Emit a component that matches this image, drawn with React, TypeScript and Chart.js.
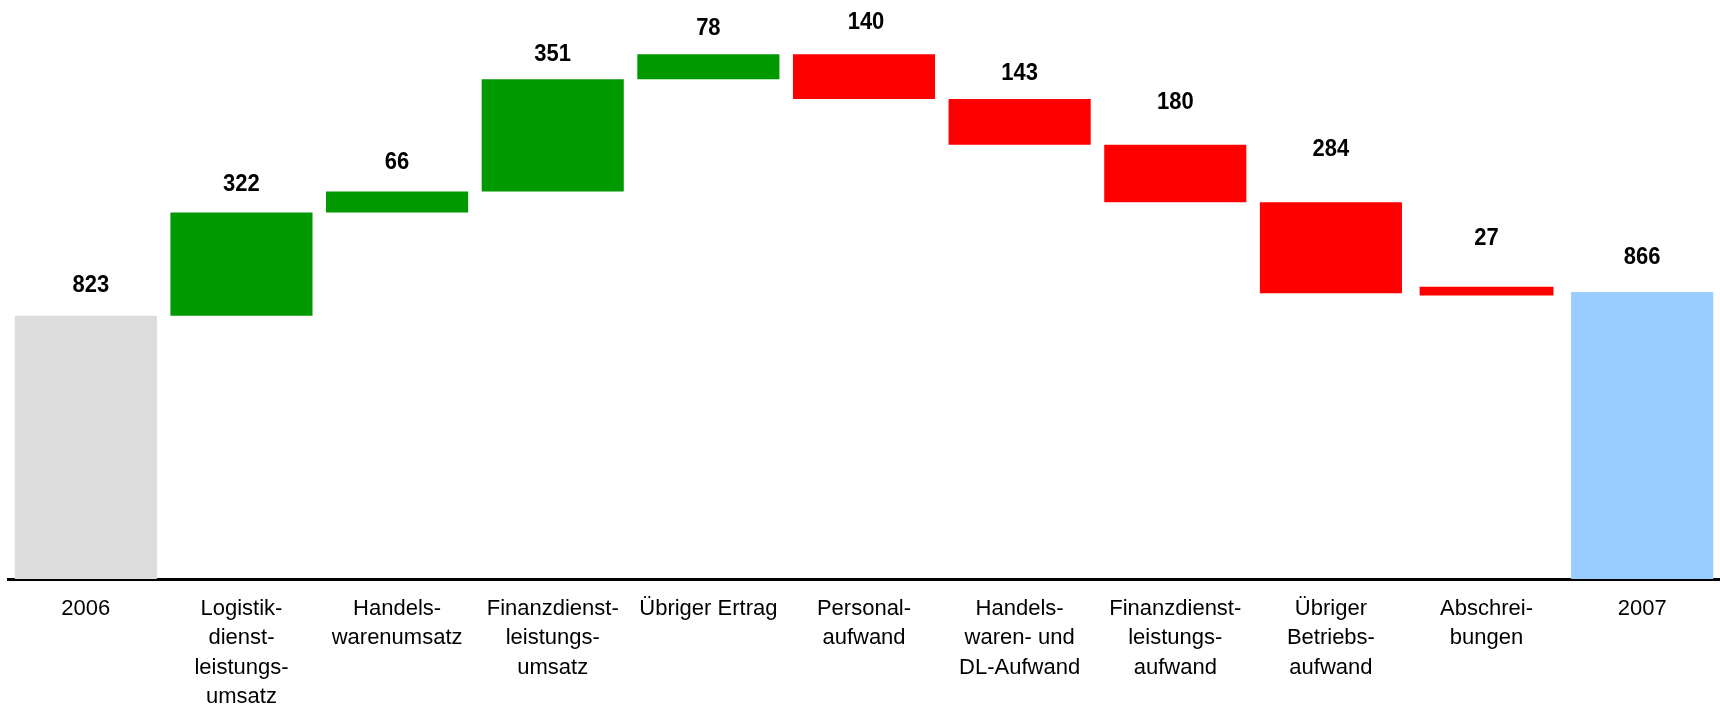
import React, { useEffect, useRef } from "react";
import { Chart, registerables } from "chart.js";

Chart.register(...registerables);

// ---- data ----
const categories: string[][] = [
  ["2006"],
  ["Logistik-", "dienst-", "leistungs-", "umsatz"],
  ["Handels-", "warenumsatz"],
  ["Finanzdienst-", "leistungs-", "umsatz"],
  ["Übriger Ertrag"],
  ["Personal-", "aufwand"],
  ["Handels-", "waren- und", "DL-Aufwand"],
  ["Finanzdienst-", "leistungs-", "aufwand"],
  ["Übriger", "Betriebs-", "aufwand"],
  ["Abschrei-", "bungen"],
  ["2007"],
];
const valueLabels = ["823", "322", "66", "351", "78", "140", "143", "180", "284", "27", "866"];
// floating bar ranges (as drawn in the reference)
const barLow = [0, 823, 1145, 1211, 1562, 1500, 1357, 1177, 893, 886, 0];
const barHigh = [823, 1145, 1211, 1562, 1640, 1640, 1500, 1357, 1177, 913, 897];
const barKind = ["start", "up", "up", "up", "up", "down", "down", "down", "down", "down", "end"];

// ---- styles ----
const kindColor: Record<string, string> = {
  start: "#DCDCDC",
  up: "#009900",
  down: "#FF0000",
  end: "#99CCFF",
};
const narrowIndex = 9; // the "Abschreibungen" bar is drawn a little narrower
const labelLift = [24, 22, 22, 18, 19, 25, 19, 36, 46, 42, 28]; // px from bar top to label baseline
const labelShiftX = [5, 0, 0, 0, 0, 2, 0, 0, 0, 0, 0];
const FONT = "'Liberation Sans', Arial, sans-serif";

const valueLabelPlugin = {
  id: "valueLabels",
  afterDatasetsDraw(chart: any) {
    const ctx = chart.ctx;
    for (let i = 0; i < valueLabels.length; i++) {
      const dsIndex = i === narrowIndex ? 1 : 0;
      const el = chart.getDatasetMeta(dsIndex).data[i];
      if (!el) continue;
      const top = Math.min(el.y, el.base);
      ctx.save();
      ctx.font = `bold 22px ${FONT}`;
      ctx.fillStyle = "#000";
      ctx.textAlign = "center";
      ctx.textBaseline = "alphabetic";
      ctx.translate(el.x + labelShiftX[i], top - labelLift[i]);
      ctx.scale(1, 1.06);
      ctx.fillText(valueLabels[i], 0, 0);
      ctx.restore();
    }
  },
};

export default function App() {
  const canvasRef = useRef<HTMLCanvasElement | null>(null);

  useEffect(() => {
    if (!canvasRef.current) return;
    const ranges = barLow.map((lo, i) => [lo, barHigh[i]]);
    const colors = barKind.map((k) => kindColor[k]);
    const mainData = ranges.map((r, i) => (i === narrowIndex ? null : r));
    const narrowData = ranges.map((r, i) => (i === narrowIndex ? r : null));

    const chart = new Chart(canvasRef.current, {
      type: "bar",
      data: {
        labels: categories,
        datasets: [
          {
            data: mainData as any,
            backgroundColor: colors,
            borderWidth: 0,
            grouped: false,
            barPercentage: 0.913,
            categoryPercentage: 1,
          },
          {
            data: narrowData as any,
            backgroundColor: colors,
            borderWidth: 0,
            grouped: false,
            barPercentage: 0.86,
            categoryPercentage: 1,
          },
        ],
      },
      options: {
        animation: false,
        responsive: false,
        devicePixelRatio: 1,
        layout: { padding: { left: 8, right: 0, top: 3, bottom: 0 } },
        plugins: {
          legend: { display: false },
          tooltip: { enabled: false },
        },
        scales: {
          x: {
            offset: true,
            grid: { display: false, drawTicks: false },
            border: { display: true, color: "#000", width: 3 },
            ticks: {
              color: "#000",
              font: { family: FONT, size: 22, lineHeight: 1.34 },
              padding: 15,
              autoSkip: false,
              maxRotation: 0,
              minRotation: 0,
            },
            afterFit(scale: any) {
              scale.height = 130;
            },
          },
          y: {
            display: false,
            min: 0,
            max: 1800,
          },
        },
      },
      plugins: [valueLabelPlugin],
    });
    return () => chart.destroy();
  }, []);

  return (
    <div style={{ position: "fixed", left: 0, top: 0, width: 1720, height: 709, background: "#fff" }}>
      <canvas ref={canvasRef} width={1720} height={709} />
    </div>
  );
}
